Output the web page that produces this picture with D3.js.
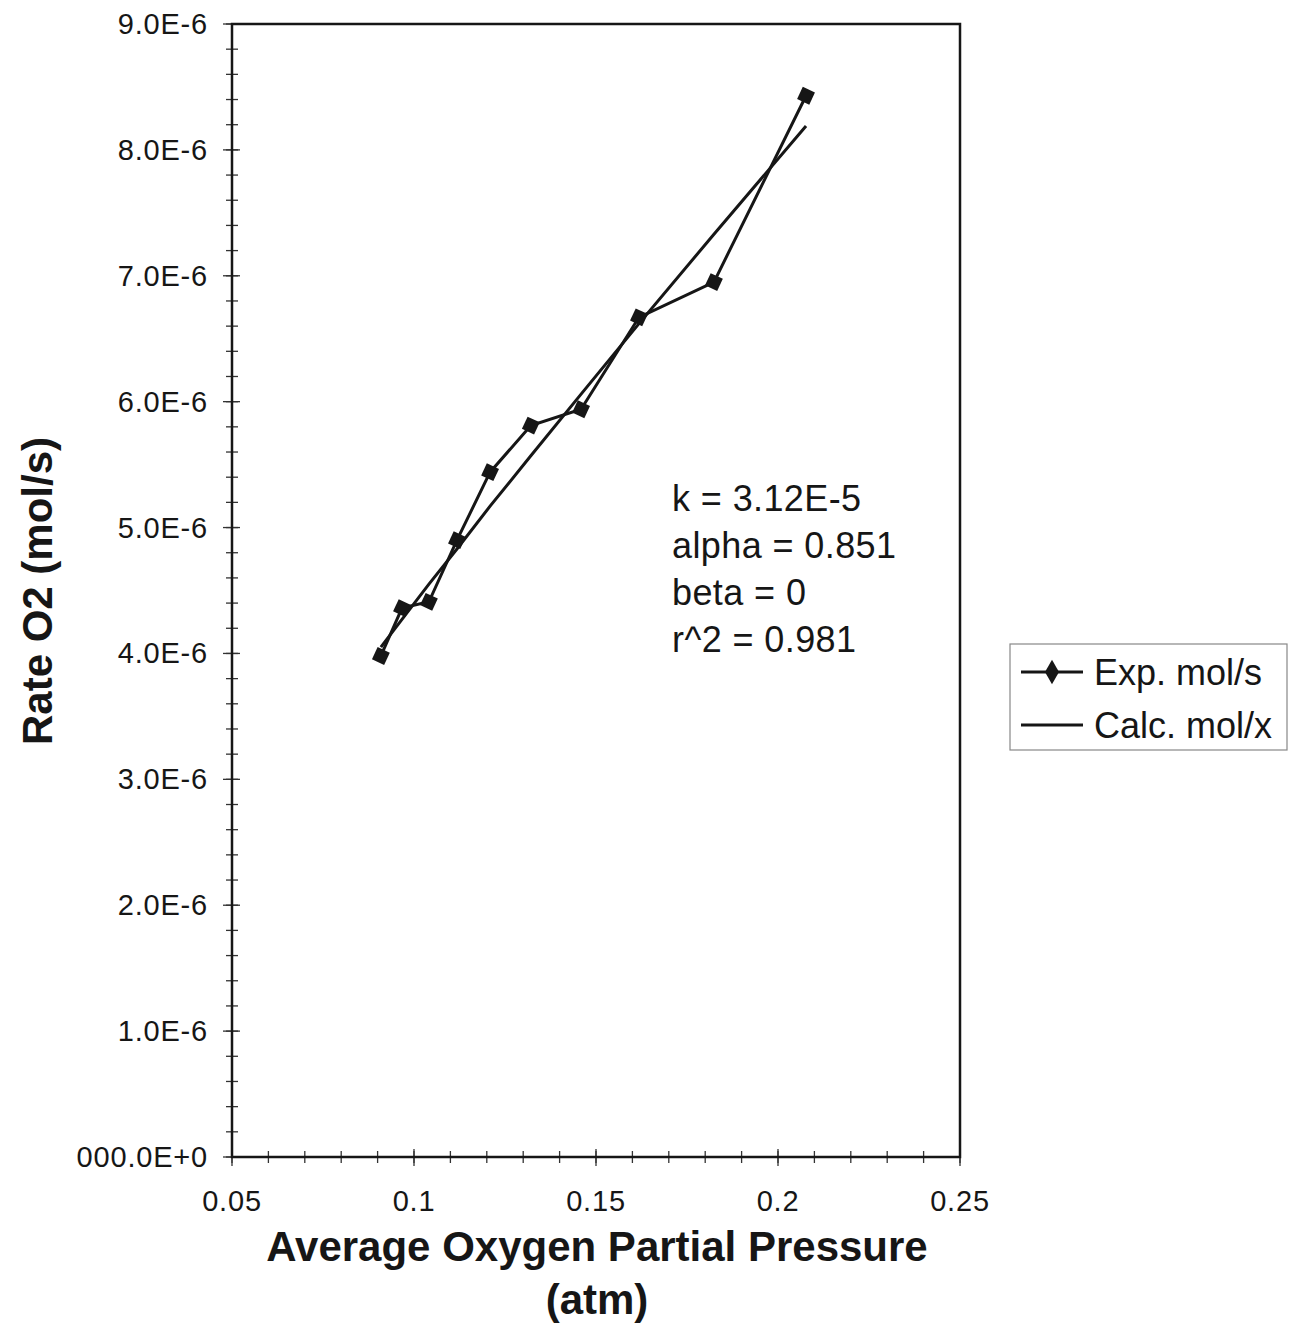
<!DOCTYPE html>
<html>
<head>
<meta charset="utf-8">
<script src="https://cdn.jsdelivr.net/npm/d3@7"></script>
<style>
  html, body { margin: 0; padding: 0; background: #fff; }
  svg { display: block; font-family: "Liberation Sans", Arial, sans-serif; }
</style>
</head>
<body>
<svg id="chart" width="1293" height="1330"></svg>
<script>
// ---- data ----
const pressure = [0.0909, 0.0967, 0.1041, 0.1118, 0.1209, 0.1321, 0.1459, 0.1618, 0.1824, 0.2077];
const expRate = [3.98e-6, 4.36e-6, 4.41e-6, 4.90e-6, 5.44e-6, 5.81e-6, 5.94e-6, 6.67e-6, 6.95e-6, 8.43e-6];
const calcRate = [4.05e-6, 4.27e-6, 4.55e-6, 4.83e-6, 5.17e-6, 5.57e-6, 6.06e-6, 6.62e-6, 7.33e-6, 8.19e-6];
const xTicks = [0.05, 0.1, 0.15, 0.2, 0.25];
const xTickLabels = ["0.05", "0.1", "0.15", "0.2", "0.25"];
const yTicks = [0, 1e-6, 2e-6, 3e-6, 4e-6, 5e-6, 6e-6, 7e-6, 8e-6, 9e-6];
const yTickLabels = ["000.0E+0", "1.0E-6", "2.0E-6", "3.0E-6", "4.0E-6", "5.0E-6", "6.0E-6", "7.0E-6", "8.0E-6", "9.0E-6"];
const annotation = ["k = 3.12E-5", "alpha = 0.851", "beta = 0", "r^2 = 0.981"];
const legendLabels = ["Exp. mol/s", "Calc. mol/x"];
const xTitle = ["Average Oxygen Partial Pressure", "(atm)"];
const yTitle = "Rate O2 (mol/s)";

// ---- layout ----
const svg = d3.select("#chart");
const L = 232, R = 960, T = 24, B = 1157;
const x = d3.scaleLinear().domain([0.05, 0.25]).range([L, R]);
const y = d3.scaleLinear().domain([0, 9e-6]).range([B, T]);

const xMinor = d3.range(0, 21).map(i => 0.05 + i * 0.01);
const yMinor = d3.range(0, 46).map(i => i * 0.2e-6);
const ink = "#161616";

const g = svg.append("g");

g.selectAll(".xminor").data(xMinor).join("line")
  .attr("x1", d => x(d)).attr("x2", d => x(d))
  .attr("y1", B - 6).attr("y2", B + 6)
  .attr("stroke", "#333").attr("stroke-width", 1.3);
g.selectAll(".yminor").data(yMinor).join("line")
  .attr("y1", d => y(d)).attr("y2", d => y(d))
  .attr("x1", L - 6).attr("x2", L + 6)
  .attr("stroke", "#333").attr("stroke-width", 1.3);
g.selectAll(".ymajor").data(yTicks).join("line")
  .attr("y1", d => y(d)).attr("y2", d => y(d))
  .attr("x1", L - 9).attr("x2", L + 8)
  .attr("stroke", "#333").attr("stroke-width", 1.3);
g.selectAll(".xmajor").data(xTicks).join("line")
  .attr("x1", d => x(d)).attr("x2", d => x(d))
  .attr("y1", B - 8).attr("y2", B + 9)
  .attr("stroke", "#333").attr("stroke-width", 1.3);

g.append("rect").attr("x", L).attr("y", T).attr("width", R - L).attr("height", B - T)
  .attr("fill", "none").attr("stroke", ink).attr("stroke-width", 2.5);

// tick labels
g.selectAll(".ylab").data(yTicks).join("text")
  .attr("x", 208).attr("y", d => y(d) + 10)
  .attr("text-anchor", "end").attr("font-size", 29).attr("letter-spacing", 0.8).attr("fill", ink)
  .text((d, i) => yTickLabels[i]);
g.selectAll(".xlab").data(xTicks).join("text")
  .attr("x", d => x(d)).attr("y", 1211)
  .attr("text-anchor", "middle").attr("font-size", 29).attr("letter-spacing", 0.8).attr("fill", ink)
  .text((d, i) => xTickLabels[i]);

// axis titles
g.selectAll(".xt").data(xTitle).join("text")
  .attr("x", 597).attr("y", (d, i) => 1261 + i * 53)
  .attr("text-anchor", "middle").attr("font-size", 42).attr("font-weight", "bold").attr("fill", ink)
  .text(d => d);
g.append("text")
  .attr("transform", "translate(52,591) rotate(-90)")
  .attr("text-anchor", "middle").attr("font-size", 42).attr("font-weight", "bold").attr("fill", ink)
  .text(yTitle);

// lines
const line = d3.line().x(d => x(d[0])).y(d => y(d[1]));
g.append("path").datum(pressure.map((p, i) => [p, calcRate[i]]))
  .attr("d", line).attr("fill", "none").attr("stroke", ink).attr("stroke-width", 3);
g.append("path").datum(pressure.map((p, i) => [p, expRate[i]]))
  .attr("d", line).attr("fill", "none").attr("stroke", ink).attr("stroke-width", 3);

const marker = d3.symbol().type(d3.symbolSquare).size(180);
g.selectAll(".pt").data(pressure).join("path")
  .attr("d", marker())
  .attr("transform", (d, i) => `translate(${x(d)},${y(expRate[i])}) rotate(25)`)
  .attr("fill", ink);

// annotation
g.selectAll(".ann").data(annotation).join("text")
  .attr("x", 672).attr("y", (d, i) => 511 + i * 47)
  .attr("font-size", 36).attr("letter-spacing", 0.4).attr("fill", ink)
  .text(d => d);

// legend
const lg = svg.append("g");
lg.append("rect").attr("x", 1010).attr("y", 644).attr("width", 277).attr("height", 106)
  .attr("fill", "#fff").attr("stroke", "#888").attr("stroke-width", 1.2);
legendLabels.forEach((lab, i) => {
  const ly = 672 + i * 53;
  lg.append("line").attr("x1", 1021).attr("x2", 1083).attr("y1", ly).attr("y2", ly)
    .attr("stroke", ink).attr("stroke-width", 3);
  if (i === 0) {
    lg.append("path").attr("d", d3.symbol().type(d3.symbolDiamond).size(170)())
      .attr("transform", `translate(1052,${ly})`).attr("fill", ink);
  }
  lg.append("text").attr("x", 1094).attr("y", ly + 13)
    .attr("font-size", 36).attr("fill", ink).text(lab);
});
</script>
</body>
</html>
